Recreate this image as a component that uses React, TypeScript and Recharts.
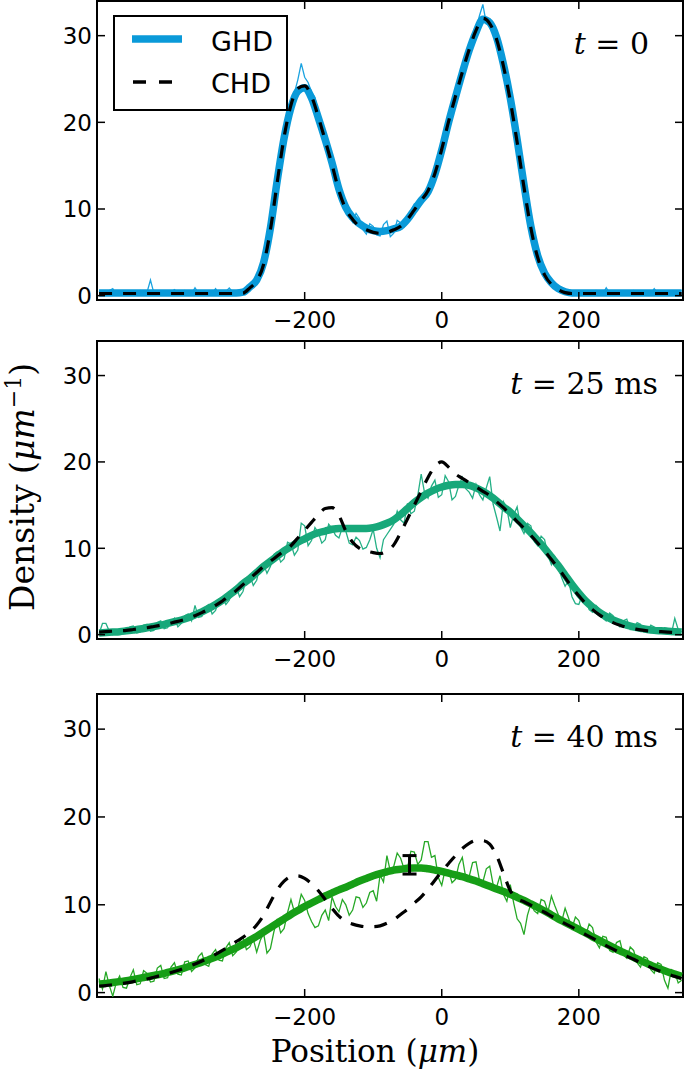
import React from "react";
import {
  ComposedChart,
  Line,
  XAxis,
  YAxis,
  ReferenceArea,
  Legend,
  Scatter,
  ErrorBar,
} from "recharts";

// positions (um) of the theory curves
const POSITION = [
  -500, -490, -480, -470, -460, -450, -440, -430, -420, -410,
  -400, -390, -380, -370, -360, -350, -340, -330, -320, -310,
  -300, -290, -280, -270, -260, -250, -240, -230, -220, -210,
  -200, -190, -180, -170, -160, -150, -140, -130, -120, -110,
  -100, -90, -80, -70, -60, -50, -40, -30, -20, -10,
  0, 10, 20, 30, 40, 50, 60, 70, 80, 90,
  100, 110, 120, 130, 140, 150, 160, 170, 180, 190,
  200, 210, 220, 230, 240, 250, 260, 270, 280, 290,
  300, 310, 320, 330, 340, 350,
];

// positions (um) of the measured profiles
const EXP_POSITION = [
  -500, -495, -490, -485, -480, -475, -470, -465, -460, -455,
  -450, -445, -440, -435, -430, -425, -420, -415, -410, -405,
  -400, -395, -390, -385, -380, -375, -370, -365, -360, -355,
  -350, -345, -340, -335, -330, -325, -320, -315, -310, -305,
  -300, -295, -290, -285, -280, -275, -270, -265, -260, -255,
  -250, -245, -240, -235, -230, -225, -220, -215, -210, -205,
  -200, -195, -190, -185, -180, -175, -170, -165, -160, -155,
  -150, -145, -140, -135, -130, -125, -120, -115, -110, -105,
  -100, -95, -90, -85, -80, -75, -70, -65, -60, -55,
  -50, -45, -40, -35, -30, -25, -20, -15, -10, -5,
  0, 5, 10, 15, 20, 25, 30, 35, 40, 45,
  50, 55, 60, 65, 70, 75, 80, 85, 90, 95,
  100, 105, 110, 115, 120, 125, 130, 135, 140, 145,
  150, 155, 160, 165, 170, 175, 180, 185, 190, 195,
  200, 205, 210, 215, 220, 225, 230, 235, 240, 245,
  250, 255, 260, 265, 270, 275, 280, 285, 290, 295,
  300, 305, 310, 315, 320, 325, 330, 335, 340, 345,
  350,
];

// t = 0
const GHD_T0 = [
  0.3, 0.3, 0.3, 0.3, 0.3, 0.3, 0.3, 0.3, 0.3, 0.3,
  0.3, 0.3, 0.3, 0.3, 0.3, 0.3, 0.3, 0.3, 0.3, 0.3,
  0.3, 0.4, 1.0, 1.8, 3.8, 7.8, 13.3, 18.2, 21.7, 23.6,
  24.0, 22.8, 20.5, 18.0, 15.3, 12.3, 10.2, 9.0, 8.3, 7.8,
  7.5, 7.4, 7.5, 7.7, 8.0, 8.8, 9.9, 11.0, 12.0, 14.0,
  16.8, 20.0, 22.9, 25.7, 28.3, 30.4, 31.9, 31.5, 29.8, 26.7,
  22.8, 18.0, 12.8, 8.0, 4.6, 2.6, 1.5, 0.8, 0.45, 0.3,
  0.3, 0.3, 0.3, 0.3, 0.3, 0.3, 0.3, 0.3, 0.3, 0.3,
  0.3, 0.3, 0.3, 0.3, 0.3, 0.3,
];
const CHD_T0 = [
  0.25, 0.25, 0.25, 0.25, 0.25, 0.25, 0.25, 0.25, 0.25, 0.25,
  0.25, 0.25, 0.25, 0.25, 0.25, 0.25, 0.25, 0.25, 0.25, 0.25,
  0.25, 0.3, 0.9, 1.7, 3.6, 7.6, 13.1, 18.3, 22.0, 23.9,
  24.2, 23.0, 20.6, 17.9, 15.1, 12.1, 10.0, 8.8, 8.0, 7.6,
  7.3, 7.2, 7.3, 7.6, 8.0, 8.8, 9.9, 11.0, 12.1, 14.1,
  16.9, 20.1, 23.0, 25.8, 28.4, 30.6, 32.0, 31.4, 29.6, 26.5,
  22.5, 17.7, 12.5, 7.8, 4.4, 2.4, 1.3, 0.7, 0.35, 0.25,
  0.25, 0.25, 0.25, 0.25, 0.25, 0.25, 0.25, 0.25, 0.25, 0.25,
  0.25, 0.25, 0.25, 0.25, 0.25, 0.25,
];
const EXP_T0 = [
  0.5, 0.2, 0.3, 0.6, 0.8, 0.1, 0.2, 0.4, 0.4, 0.2,
  0.3, 0.5, 0.6, 0.2, 0.4, 1.8, 0.3, 0.4, 0.5, 0.2,
  0.2, 0.4, 0.7, 0.3, 0.3, 0.6, 0.4, 0.2, 0.9, 0.3,
  0.2, 0.4, 0.5, 0.3, 0.8, 0.2, 0.3, 0.5, 0.9, 0.4,
  0.4, 0.2, 0.6, 0.9, 1.2, 1.3, 2.1, 2.6, 4.1, 5.6,
  8.2, 10.1, 13.9, 16.2, 17.9, 20.8, 22.6, 23.4, 24.9, 26.8,
  25.2, 24.6, 23.5, 22.9, 21.1, 19.6, 17.4, 17.3, 15.9, 13.2,
  11.8, 11.3, 10.7, 9.4, 8.5, 9.5, 8.9, 7.6, 7.1, 8.3,
  8.0, 7.0, 6.9, 8.2, 8.6, 6.8, 7.2, 8.7, 8.4, 7.9,
  8.4, 9.8, 10.6, 10.2, 10.7, 11.8, 12.6, 12.4, 13.8, 15.6,
  17.5, 18.3, 19.7, 22.1, 23.5, 24.2, 25.3, 27.6, 29.0, 29.4,
  30.7, 32.3, 33.6, 31.4, 31.9, 30.2, 29.2, 28.6, 27.1, 24.1,
  22.2, 20.6, 18.5, 15.8, 12.2, 10.6, 8.4, 5.6, 4.0, 3.3,
  2.9, 1.7, 1.2, 1.3, 0.9, 0.5, 0.5, 0.2, 0.3, 0.4,
  0.5, 0.2, 0.2, 0.4, 0.4, 0.6, 0.3, 0.2, 0.9, 0.3,
  0.3, 0.5, 0.5, 0.2, 0.2, 0.4, 0.6, 0.3, 0.3, 0.5,
  0.4, 0.2, 0.8, 0.3, 0.3, 0.5, 0.5, 0.2, 0.2, 0.4,
  0.6,
];

// t = 25 ms
const GHD_T25 = [
  0.2, 0.25, 0.3, 0.35, 0.45, 0.55, 0.65, 0.8, 0.95, 1.1,
  1.3, 1.5, 1.7, 1.95, 2.3, 2.65, 3.05, 3.5, 4.0, 4.6,
  5.2, 5.9, 6.5, 7.2, 7.9, 8.5, 9.1, 9.7, 10.2, 10.7,
  11.1, 11.5, 11.8, 12.0, 12.2, 12.3, 12.3, 12.3, 12.3, 12.3,
  12.4, 12.6, 12.9, 13.3, 13.9, 14.6, 15.3, 15.9, 16.4, 16.8,
  17.1, 17.3, 17.4, 17.4, 17.3, 17.0, 16.6, 16.1, 15.5, 14.8,
  14.2, 13.4, 12.6, 11.8, 10.9, 10.0, 9.0, 8.0, 6.9, 5.8,
  4.8, 3.9, 3.2, 2.6, 2.1, 1.7, 1.4, 1.1, 0.9, 0.75,
  0.6, 0.5, 0.45, 0.4, 0.35, 0.3,
];
const CHD_T25 = [
  0.3, 0.35, 0.4, 0.45, 0.5, 0.6, 0.7, 0.8, 0.95, 1.1,
  1.25, 1.45, 1.65, 1.9, 2.2, 2.55, 2.95, 3.4, 3.9, 4.5,
  5.1, 5.8, 6.5, 7.2, 7.9, 8.5, 9.1, 9.7, 10.3, 11.2,
  12.1, 13.0, 13.9, 14.6, 14.7, 13.8, 12.0, 10.7, 10.0, 9.7,
  9.5, 9.4, 9.7, 10.4, 11.8, 13.4, 15.0, 16.6, 18.2, 19.5,
  20.0, 19.4, 18.6, 18.1, 17.6, 17.1, 16.6, 16.1, 15.4, 14.7,
  13.9, 13.1, 12.3, 11.5, 10.6, 9.7, 8.7, 7.7, 6.6, 5.5,
  4.5, 3.6, 2.9, 2.3, 1.8, 1.4, 1.1, 0.85, 0.7, 0.55,
  0.45, 0.4, 0.35, 0.3, 0.25, 0.2,
];
const EXP_T25 = [
  0.1, 1.3, 1.3, 0.4, 0.0, 0.5, 0.6, 0.1, 0.2, 0.9,
  1.0, 0.2, 0.3, 1.1, 1.2, 0.4, 0.5, 1.4, 1.6, 0.7,
  0.8, 1.5, 1.9, 0.9, 1.3, 2.2, 2.4, 1.6, 3.4, 2.0,
  2.1, 3.2, 3.5, 2.4, 2.8, 4.1, 4.3, 3.5, 4.0, 5.2,
  5.6, 4.4, 5.0, 6.6, 6.9, 5.7, 6.3, 8.0, 8.2, 7.1,
  7.9, 9.3, 9.6, 8.4, 8.8, 10.7, 10.5, 9.2, 9.8, 12.9,
  12.6, 10.3, 10.9, 12.4, 11.8, 10.6, 11.0, 12.8, 12.3, 11.5,
  11.2, 12.4, 12.0, 10.6, 10.4, 11.3, 10.9, 9.9, 10.1, 11.0,
  12.2, 10.0, 8.9, 11.0, 11.6, 12.2, 12.8, 14.3, 13.3, 12.9,
  15.2, 14.0, 14.3, 16.1, 18.6, 16.4, 15.8, 17.2, 17.9, 15.9,
  16.2, 18.4, 17.7, 15.6, 16.0, 17.3, 18.2, 16.9, 16.5, 15.8,
  17.4, 16.2, 15.6, 17.0, 18.3, 15.1, 13.6, 12.0, 15.4, 14.6,
  12.4, 13.9, 14.8, 12.5, 11.7, 12.9, 12.6, 10.8, 10.3, 11.4,
  11.0, 9.2, 8.1, 9.0, 7.9, 6.6, 5.6, 6.3, 4.4, 3.6,
  3.5, 4.6, 4.3, 2.9, 2.6, 3.4, 3.0, 1.9, 1.6, 2.5,
  2.2, 1.3, 0.9, 1.6, 1.8, 0.6, 0.6, 1.4, 1.2, 0.3,
  0.4, 1.1, 0.9, 0.2, 0.2, 0.8, 0.7, 0.1, 1.9, 0.6,
  0.3,
];

// t = 40 ms
const GHD_T40 = [
  0.95, 1.05, 1.15, 1.25, 1.35, 1.5, 1.65, 1.8, 1.95, 2.1,
  2.3, 2.5, 2.7, 2.95, 3.2, 3.45, 3.75, 4.05, 4.4, 4.75,
  5.1, 5.5, 5.95, 6.4, 6.9, 7.4, 7.9, 8.4, 8.9, 9.35,
  9.8, 10.2, 10.6, 11.0, 11.35, 11.7, 12.0, 12.35, 12.7, 13.0,
  13.3, 13.55, 13.75, 13.95, 14.05, 14.15, 14.2, 14.2, 14.1, 13.95,
  13.8, 13.6, 13.4, 13.2, 12.95, 12.7, 12.4, 12.1, 11.8, 11.5,
  11.2, 10.85, 10.5, 10.1, 9.7, 9.3, 8.85, 8.4, 8.0, 7.6,
  7.2, 6.8, 6.35, 5.95, 5.55, 5.15, 4.75, 4.4, 4.0, 3.65,
  3.3, 2.95, 2.65, 2.35, 2.1, 1.85,
];
const CHD_T40 = [
  0.75, 0.8, 0.9, 1.0, 1.1, 1.25, 1.4, 1.55, 1.75, 1.95,
  2.15, 2.4, 2.65, 2.95, 3.25, 3.6, 3.95, 4.35, 4.8, 5.3,
  5.8, 6.3, 6.9, 7.7, 8.8, 10.3, 11.7, 12.7, 13.2, 13.3,
  13.0, 12.4, 11.6, 10.6, 9.6, 8.7, 8.1, 7.8, 7.6, 7.5,
  7.5, 7.6, 7.9, 8.3, 8.9, 9.5, 10.2, 10.9, 11.8, 12.8,
  13.8, 14.7, 15.6, 16.4, 17.0, 17.3, 17.3, 16.9, 15.6, 13.6,
  11.6, 10.7, 10.35, 9.95, 9.55, 9.15, 8.7, 8.25, 7.85, 7.45,
  7.05, 6.6, 6.2, 5.75, 5.35, 4.95, 4.55, 4.15, 3.8, 3.4,
  3.05, 2.7, 2.4, 2.1, 1.85, 1.6,
];
const EXP_T40 = [
  1.6, 0.4, 2.4, 0.8, -0.4, 1.1, 1.9, 0.6, 0.5, 1.7,
  2.6, 0.9, 1.0, 2.5, 2.2, 1.2, 1.3, 2.8, 3.1, 1.6,
  1.7, 2.9, 3.4, 2.1, 2.0, 3.5, 3.6, 2.4, 2.8, 4.1,
  4.5, 3.2, 3.0, 4.4, 4.9, 3.7, 3.6, 5.1, 5.7, 4.2,
  4.6, 5.8, 6.3, 4.9, 5.2, 6.1, 4.6, 5.9, 6.8, 4.5,
  5.0, 6.9, 8.4, 6.8, 7.3, 9.1, 10.6, 9.2, 9.5, 11.2,
  10.5, 9.0, 8.1, 7.4, 7.6, 8.8, 9.4, 8.2, 10.9, 9.8,
  9.2, 10.6, 10.0, 8.8, 9.4, 10.9, 10.8, 9.7, 10.2, 11.4,
  11.6, 10.4, 13.4, 12.6, 15.6, 13.8, 14.4, 15.9, 15.3, 14.1,
  14.2, 16.1, 16.0, 14.6, 15.1, 17.2, 17.2, 15.4, 15.6, 13.1,
  12.2, 14.0, 13.9, 12.5, 12.9, 14.6, 15.4, 13.1, 13.2, 14.8,
  14.9, 12.8, 12.6, 14.1, 14.4, 12.3, 12.0, 13.3, 11.2, 10.4,
  12.3, 10.2, 8.4, 7.9, 6.6, 8.8, 10.1, 9.3, 9.0, 10.6,
  10.4, 9.2, 11.0, 9.9, 8.9, 8.1, 9.6, 8.5, 7.3, 8.6,
  8.2, 6.9, 6.5, 7.8, 7.4, 5.8, 5.1, 6.4, 6.3, 4.8,
  4.6, 5.7, 5.9, 4.3, 3.9, 5.2, 4.8, 3.4, 2.9, 4.1,
  3.9, 2.6, 2.2, 3.4, 3.2, 1.4, 0.5, 2.6, 2.3, 1.1,
  1.4,
];

// error bar shown on the t = 40 ms panel
const ERR_POS = [-47];
const ERR_VAL = [14.55];
const ERR_SIZE = [1.05];

const X_TICKS = [-200, 0, 200];
const Y_TICKS = [0, 10, 20, 30];
const X_DOMAIN = [-503, 352];
const Y_DOMAIN = [-0.5, 34];

const WIDTH = 685;
const PLOT_LEFT = 97;
const PLOT_RIGHT = 683;
const PLOT_TOP = 1;
const TICK = 8;
const SANS = "'DejaVu Sans', sans-serif";
const SERIF = "'DejaVu Serif', serif";

const fmt = (v: number) => (v < 0 ? `\u2212${Math.abs(v)}` : `${v}`);

const theoryRows = (ghd: number[], chd: number[]) =>
  POSITION.map((x, i) => ({ x, ghd: ghd[i], chd: chd[i] }));
const expRows = (exp: number[]) => EXP_POSITION.map((x, i) => ({ x, exp: exp[i] }));

function XTick(props: any) {
  const { x, y, payload } = props;
  return (
    <g>
      <line x1={x} x2={x} y1={y} y2={y - TICK} stroke="#000" strokeWidth={1.5} />
      <line x1={x} x2={x} y1={PLOT_TOP} y2={PLOT_TOP + TICK} stroke="#000" strokeWidth={1.5} />
      <text x={x} y={y + 28} textAnchor="middle" fontFamily={SANS} fontSize={23} fill="#000">
        {fmt(payload.value)}
      </text>
    </g>
  );
}

function YTick(props: any) {
  const { x, y, payload } = props;
  return (
    <g>
      <line x1={x} x2={x + TICK} y1={y} y2={y} stroke="#000" strokeWidth={1.5} />
      <line x1={PLOT_RIGHT - TICK} x2={PLOT_RIGHT} y1={y} y2={y} stroke="#000" strokeWidth={1.5} />
      <text x={x - 5} y={y} dy="0.36em" textAnchor="end" fontFamily={SANS} fontSize={23} fill="#000">
        {fmt(payload.value)}
      </text>
    </g>
  );
}

function TimeTag({ right, time, unit }: { right: number; time: string; unit?: string }) {
  return (
    <text x={right} y={54} textAnchor="end" fontFamily={SERIF} fontSize={30} fill="#000">
      <tspan fontStyle="italic">t</tspan>
      <tspan>{` = ${time}`}</tspan>
      {unit ? <tspan>{` ${unit}`}</tspan> : null}
    </text>
  );
}

function DensityLabel() {
  const cx = 34;
  const cy = 147;
  return (
    <text
      x={cx}
      y={cy}
      transform={`rotate(-90 ${cx} ${cy})`}
      textAnchor="middle"
      fontFamily={SERIF}
      fontSize={33}
      fill="#000"
    >
      <tspan>Density (</tspan>
      <tspan fontStyle="italic">μm</tspan>
      <tspan dy={-13} fontSize={22}>−1</tspan>
      <tspan dy={13}>)</tspan>
    </text>
  );
}

function PositionLabel() {
  return (
    <text x={375} y={369} textAnchor="middle" fontFamily={SERIF} fontSize={31} fill="#000">
      <tspan>Position (</tspan>
      <tspan fontStyle="italic">μm</tspan>
      <tspan>)</tspan>
    </text>
  );
}

function LegendBox() {
  return (
    <div
      style={{
        width: 175,
        height: 96,
        boxSizing: "border-box",
        border: "2px solid #000",
        background: "#fff",
        position: "relative",
      }}
    >
      <svg width={171} height={92} style={{ position: "absolute", left: 0, top: 0 }}>
        <line x1={17} x2={67} y1={22} y2={22} stroke="#0a9ad9" strokeWidth={7.5} />
        <line x1={18} x2={57} y1={65} y2={65} stroke="#000" strokeWidth={3.5} strokeDasharray="13 13" />
        <text x={96} y={24} dy="0.36em" fontFamily={SANS} fontSize={27} fill="#000">GHD</text>
        <text x={96} y={66} dy="0.36em" fontFamily={SANS} fontSize={27} fill="#000">CHD</text>
      </svg>
    </div>
  );
}

interface PanelProps {
  top: number;
  height: number;
  axisHeight: number;
  rows: { x: number; ghd: number; chd: number }[];
  measured: { x: number; exp: number }[];
  thick: string;
  thin: string;
  tag: React.ReactElement;
  withLegend?: boolean;
  yLabel?: boolean;
  xLabel?: boolean;
  errorBar?: boolean;
}

function Panel({ top, height, axisHeight, rows, measured, thick, thin, tag, withLegend, yLabel, xLabel, errorBar }: PanelProps) {
  const errRows = ERR_POS.map((x, i) => ({ x, y: ERR_VAL[i], err: ERR_SIZE[i] }));
  return (
    <div style={{ position: "absolute", left: 0, top, width: WIDTH, height }}>
      <ComposedChart
        width={WIDTH}
        height={height}
        data={rows}
        margin={{ top: PLOT_TOP, right: WIDTH - PLOT_RIGHT, bottom: 0, left: 0 }}
      >
        <XAxis
          dataKey="x"
          type="number"
          domain={X_DOMAIN}
          ticks={X_TICKS}
          allowDataOverflow
          height={axisHeight}
          axisLine={false}
          tickLine={false}
          tickSize={0}
          tickMargin={0}
          tick={<XTick />}
          label={xLabel ? <PositionLabel /> : undefined}
        />
        <YAxis
          type="number"
          domain={Y_DOMAIN}
          ticks={Y_TICKS}
          allowDataOverflow
          width={PLOT_LEFT}
          axisLine={false}
          tickLine={false}
          tickSize={0}
          tickMargin={0}
          tick={<YTick />}
          label={yLabel ? <DensityLabel /> : undefined}
        />
        <Line
          data={measured}
          dataKey="exp"
          type="linear"
          stroke={thin}
          strokeWidth={1.3}
          dot={false}
          isAnimationActive={false}
        />
        <Line
          dataKey="ghd"
          type="monotone"
          stroke={thick}
          strokeWidth={7.5}
          dot={false}
          isAnimationActive={false}
        />
        <Line
          dataKey="chd"
          type="monotone"
          stroke="#000"
          strokeWidth={3.2}
          strokeDasharray="13 11"
          dot={false}
          isAnimationActive={false}
        />
        {errorBar ? (
          <Scatter data={errRows} dataKey="y" shape={() => <g />} isAnimationActive={false}>
            <ErrorBar dataKey="err" direction="y" width={7} stroke="#000" strokeWidth={3} />
          </Scatter>
        ) : null}
        <ReferenceArea
          x1={X_DOMAIN[0]}
          x2={X_DOMAIN[1]}
          y1={Y_DOMAIN[0]}
          y2={Y_DOMAIN[1]}
          fill="none"
          fillOpacity={0}
          stroke="#000"
          strokeWidth={2}
          ifOverflow="visible"
          label={tag}
        />
        {withLegend ? (
          <Legend
            layout="horizontal"
            verticalAlign="middle"
            align="center"
            wrapperStyle={{ left: 113, top: 15, width: 175, height: 96 }}
            content={() => <LegendBox />}
          />
        ) : null}
      </ComposedChart>
    </div>
  );
}

export default function App() {
  return (
    <div style={{ position: "absolute", left: 0, top: 0, width: WIDTH, height: 1073, background: "#fff" }}>
      <Panel
        top={0}
        height={340}
        axisHeight={40}
        rows={theoryRows(GHD_T0, CHD_T0)}
        measured={expRows(EXP_T0)}
        thick="#0a9ad9"
        thin="#1ba3e0"
        tag={<TimeTag right={649} time="0" />}
        withLegend
      />
      <Panel
        top={340}
        height={340}
        axisHeight={41}
        rows={theoryRows(GHD_T25, CHD_T25)}
        measured={expRows(EXP_T25)}
        thick="#17a87a"
        thin="#25b086"
        tag={<TimeTag right={658} time="25" unit="ms" />}
        yLabel
      />
      <Panel
        top={693}
        height={380}
        axisHeight={76}
        rows={theoryRows(GHD_T40, CHD_T40)}
        measured={expRows(EXP_T40)}
        thick="#169e16"
        thin="#26a826"
        tag={<TimeTag right={658} time="40" unit="ms" />}
        xLabel
        errorBar
      />
    </div>
  );
}
